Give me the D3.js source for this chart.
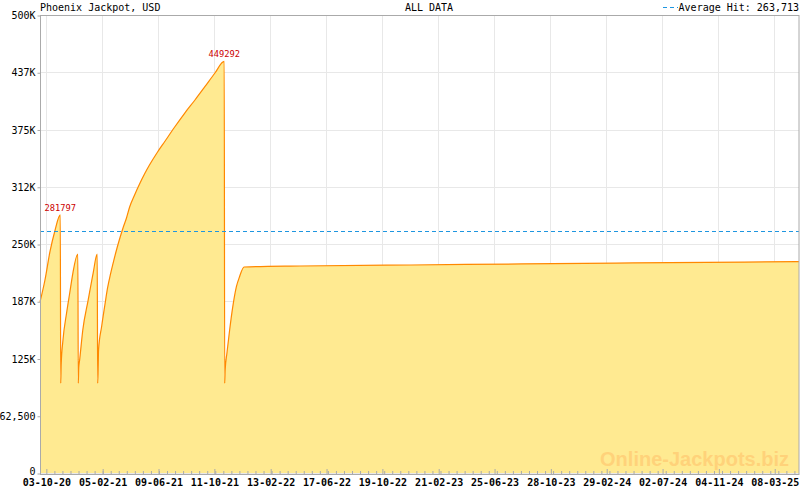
<!DOCTYPE html>
<html>
<head>
<meta charset="utf-8">
<script src="https://cdn.jsdelivr.net/npm/d3@7"></script>
<style>
  body { margin: 0; background: #fff; }
  svg text { font-family: "DejaVu Sans Mono", monospace; font-size: 10px; }
</style>
</head>
<body>
<div id="chart"></div>
<script>
// jackpot level over time
var dates = [
  "2020-09-20","2020-10-01","2020-10-12","2020-10-23","2020-11-04","2020-11-05","2020-11-06",
  "2020-11-10","2020-11-18","2020-11-25","2020-12-02","2020-12-13","2020-12-14","2020-12-15",
  "2020-12-17","2020-12-24","2021-01-05","2021-01-16","2021-01-25","2021-01-26","2021-01-27",
  "2021-01-28","2021-02-04","2021-02-11","2021-02-17","2021-02-24","2021-03-03","2021-03-10",
  "2021-03-17","2021-03-24","2021-03-31","2021-04-07","2021-04-18","2021-04-29","2021-05-10",
  "2021-05-21","2021-06-08","2021-06-24","2021-07-16","2021-08-07","2021-08-30","2021-09-21",
  "2021-10-13","2021-11-03",
  "2021-11-04","2021-11-05","2021-11-09","2021-11-15","2021-11-22","2021-11-30","2021-12-07",
  "2021-12-17","2022-04-20","2022-12-22","2023-08-25","2024-04-28","2024-12-31","2025-05-02"
];
var values = [
  186700,210700,241300,264200,281797,98000,118000,
  145200,174700,196500,218300,239100,98000,115000,
  123400,156100,188900,218300,239100,98000,111000,
  134300,160500,183400,202000,218300,232500,245600,
  257600,268600,278400,290400,303500,315500,326400,
  336200,350400,361900,377700,392700,407200,421700,
  436400,449292,
  98000,112000,131000,156100,181600,203400,214300,
  224900,226000,227100,228200,229300,230300,230800
];

// labelled hits
var peakDates = ["2020-11-04", "2021-11-03"];
var peakValues = [281797, 449292];

var averageHit = 263713;

var yTickValues = [0, 62500, 125000, 187500, 250000, 312500, 375000, 437500, 500000];
var yTickLabels = ["0", "62,500", "125K", "187K", "250K", "312K", "375K", "437K", "500K"];

var xTickLabels = ["03-10-20","05-02-21","09-06-21","11-10-21","13-02-22","17-06-22","19-10-22",
  "21-02-23","25-06-23","28-10-23","29-02-24","02-07-24","04-11-24","08-03-25"];

var xStart = "2020-09-20", xEnd = "2025-05-02";

var width = 800, height = 490;
var plot = { left: 40, right: 799, top: 15, bottom: 473 };
var avgColor = "#1e96e0";

var parseDay = d3.timeParse("%Y-%m-%d");
var parseTick = d3.timeParse("%d-%m-%y");

var data = dates.map(function(d, i) { return { date: parseDay(d), value: values[i] }; });
var majorTicks = xTickLabels.map(function(s) { return parseTick(s); });

var x = d3.scaleTime()
  .domain([parseDay(xStart), parseDay(xEnd)])
  .range([plot.left, plot.right]);

var y = d3.scaleLinear()
  .domain([0, 500000])
  .range([plot.bottom, plot.top]);

// minor ticks: 7 steps between each pair of labelled dates
var minorTicks = [];
var step = (majorTicks[1] - majorTicks[0]) / 7;
for (var t = +majorTicks[0] + step; t < +x.domain()[1]; t += step) {
  minorTicks.push(new Date(t));
}

var svg = d3.select("#chart").append("svg")
  .attr("width", width)
  .attr("height", height);

var grid = svg.append("g").attr("id", "grid");

grid.selectAll("line.h")
  .data(yTickValues)
  .enter().append("line")
  .attr("x1", plot.left).attr("x2", plot.right)
  .attr("y1", function(d) { return Math.round(y(d)) + 0.5; })
  .attr("y2", function(d) { return Math.round(y(d)) + 0.5; })
  .attr("stroke", "#e8e8e8");

grid.selectAll("line.v")
  .data(majorTicks)
  .enter().append("line")
  .attr("x1", function(d) { return Math.round(x(d)) + 0.5; })
  .attr("x2", function(d) { return Math.round(x(d)) + 0.5; })
  .attr("y1", plot.top).attr("y2", plot.bottom)
  .attr("stroke", "#e8e8e8");

// area + line
var area = d3.area()
  .curve(d3.curveMonotoneX)
  .x(function(d) { return x(d.date); })
  .y0(y(0))
  .y1(function(d) { return y(d.value); });

var line = d3.line()
  .curve(d3.curveMonotoneX)
  .x(function(d) { return x(d.date); })
  .y(function(d) { return y(d.value); });

svg.append("path")
  .datum(data)
  .attr("d", area)
  .attr("fill", "#ffea91");

// watermark sits on the fill
svg.append("text")
  .attr("x", 789).attr("y", 466)
  .attr("text-anchor", "end")
  .style("font-family", "'Liberation Sans', Arial, sans-serif")
  .style("font-size", "20px")
  .style("font-weight", "bold")
  .attr("fill", "#ffd27a")
  .text("Online-Jackpots.biz");

svg.append("path")
  .datum(data)
  .attr("d", line)
  .attr("fill", "none")
  .attr("stroke", "#ff8800")
  .attr("stroke-width", 1.2);

// average hit
svg.append("line")
  .attr("x1", plot.left).attr("x2", plot.right)
  .attr("y1", Math.round(y(averageHit)) + 0.5)
  .attr("y2", Math.round(y(averageHit)) + 0.5)
  .attr("shape-rendering", "crispEdges")
  .style("stroke", avgColor)
  .style("stroke-width", 1.2)
  .style("stroke-dasharray", "4,3");

// frame
svg.append("rect")
  .attr("x", plot.left + 0.5).attr("y", plot.top + 0.5)
  .attr("width", plot.right - plot.left - 0.5)
  .attr("height", plot.bottom - plot.top + 1)
  .attr("fill", "none")
  .attr("stroke", "#aaaaaa");

// y axis
var yAxis = d3.axisLeft(y)
  .tickValues(yTickValues)
  .tickSize(3)
  .tickPadding(2)
  .tickFormat(function(d, i) { return yTickLabels[i]; });

var gy = svg.append("g")
  .attr("transform", "translate(" + (plot.left + 0.5) + ",0.5)")
  .call(yAxis);
gy.select(".domain").remove();
gy.selectAll(".tick line").attr("stroke", "#aaaaaa");
gy.selectAll(".tick text")
  .attr("fill", "#000")
  .style("font-family", "'DejaVu Sans Mono', monospace")
  .style("font-size", "10px");
gy.selectAll(".tick text").filter(function(d) { return d === 0; })
  .attr("dy", "0.1em");

// x axis: ticks point up into the plot
var gxMinor = svg.append("g")
  .attr("transform", "translate(0.5," + (plot.bottom + 1) + ")")
  .call(d3.axisTop(x).tickValues(minorTicks).tickSize(3).tickFormat(""));
gxMinor.select(".domain").remove();
gxMinor.selectAll(".tick line").attr("stroke", "#aaaaaa");

var gx = svg.append("g")
  .attr("transform", "translate(0.5," + (plot.bottom + 1) + ")")
  .call(d3.axisTop(x).tickValues(majorTicks).tickSize(5)
    .tickFormat(function(d, i) { return xTickLabels[i]; }));
gx.select(".domain").remove();
gx.selectAll(".tick line").attr("stroke", "#aaaaaa");
gx.selectAll(".tick text")
  .attr("y", 12)
  .attr("dy", 0)
  .attr("fill", "#000")
  .style("font-family", "'DejaVu Sans Mono', monospace")
  .style("font-size", "10px")
  .style("font-weight", "bold");

// peak labels
svg.selectAll("text.peak")
  .data(peakDates)
  .enter().append("text")
  .attr("class", "peak")
  .attr("x", function(d) { return x(parseDay(d)); })
  .attr("y", function(d, i) { return y(peakValues[i]) - 4; })
  .attr("text-anchor", "middle")
  .attr("fill", "#cc0000")
  .style("font-size", "8.7px")
  .text(function(d, i) { return peakValues[i]; });

// header
svg.append("text")
  .attr("x", plot.left).attr("y", 11)
  .text("Phoenix Jackpot, USD");

svg.append("text")
  .attr("x", 429).attr("y", 11)
  .attr("text-anchor", "middle")
  .text("ALL DATA");

svg.append("text")
  .attr("x", plot.right).attr("y", 11)
  .attr("text-anchor", "end")
  .text("Average Hit: " + d3.format(",")(averageHit));

svg.append("line")
  .attr("x1", 663).attr("x2", 678)
  .attr("y1", 7.5).attr("y2", 7.5)
  .attr("shape-rendering", "crispEdges")
  .style("stroke", avgColor)
  .style("stroke-width", 1.2)
  .style("stroke-dasharray", "4,3");
</script>
</body>
</html>
